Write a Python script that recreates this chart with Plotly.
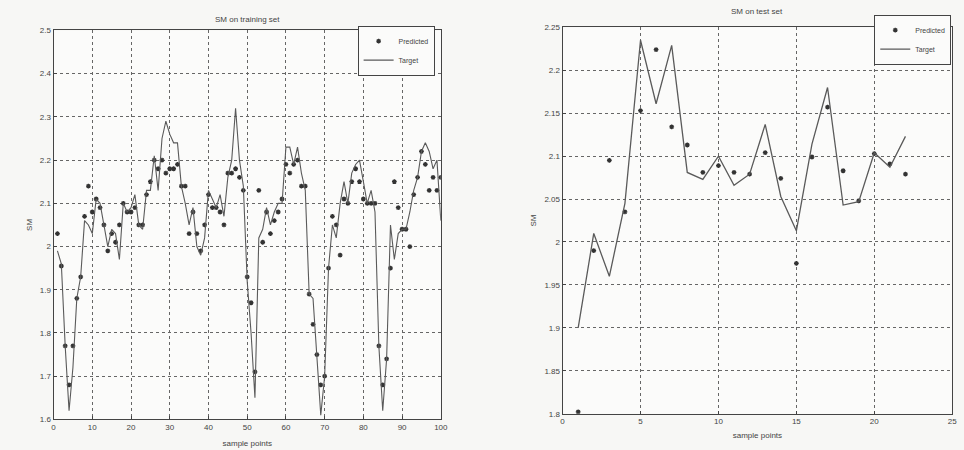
import plotly.graph_objects as go

# ---- Training set (left) ----
train_x = list(range(1, 101))
train_target = [1.99, 1.96, 1.77, 1.62, 1.72, 1.88, 1.93, 2.06, 2.05, 2.03,
                2.11, 2.10, 2.05, 2.00, 2.04, 2.03, 1.97, 2.10, 2.08, 2.09,
                2.12, 2.05, 2.04, 2.13, 2.13, 2.21, 2.13, 2.25, 2.29, 2.26,
                2.24, 2.24, 2.14, 2.10, 2.05, 2.09, 2.00, 1.98, 2.02, 2.13,
                2.11, 2.09, 2.12, 2.07, 2.16, 2.20, 2.32, 2.20, 2.14, 1.92,
                1.80, 1.65, 2.02, 2.04, 2.09, 2.05, 2.08, 2.10, 2.10, 2.23,
                2.23, 2.19, 2.23, 2.17, 2.13, 1.89, 1.88, 1.75, 1.61, 1.70,
                1.95, 2.05, 2.02, 2.10, 2.15, 2.10, 2.17, 2.19, 2.20, 2.15,
                2.10, 2.13, 2.08, 1.77, 1.62, 1.74, 2.05, 1.97, 2.03, 2.04,
                2.04, 2.08, 2.13, 2.16, 2.22, 2.24, 2.22, 2.18, 2.20, 2.06]
train_pred = [2.03, 1.955, 1.77, 1.68, 1.77, 1.88, 1.93, 2.07, 2.14, 2.08,
              2.11, 2.09, 2.05, 1.99, 2.03, 2.01, 2.05, 2.10, 2.08, 2.08,
              2.09, 2.05, 2.05, 2.12, 2.15, 2.20, 2.18, 2.20, 2.17, 2.18,
              2.18, 2.19, 2.14, 2.14, 2.03, 2.08, 2.03, 1.99, 2.05, 2.12,
              2.09, 2.09, 2.08, 2.05, 2.17, 2.17, 2.18, 2.16, 2.13, 1.93,
              1.87, 1.71, 2.13, 2.01, 2.08, 2.03, 2.06, 2.08, 2.11, 2.19,
              2.17, 2.19, 2.20, 2.14, 2.14, 1.89, 1.82, 1.75, 1.68, 1.70,
              1.95, 2.07, 2.05, 1.98, 2.11, 2.10, 2.15, 2.18, 2.15, 2.11,
              2.10, 2.10, 2.10, 1.77, 1.68, 1.74, 1.95, 2.15, 2.09, 2.04,
              2.04, 2.00, 2.12, 2.16, 2.22, 2.19, 2.13, 2.16, 2.13, 2.16]

# ---- Test set (right) ----
test_x = list(range(1, 23))
test_target = [1.90, 2.01, 1.96, 2.045, 2.235, 2.161, 2.229, 2.081, 2.073, 2.100,
               2.066, 2.079, 2.137, 2.053, 2.013, 2.114, 2.180, 2.043, 2.047, 2.104,
               2.087, 2.123]
test_pred = [1.802, 1.99, 2.095, 2.035, 2.153, 2.224, 2.134, 2.113, 2.081, 2.089,
             2.081, 2.079, 2.104, 2.074, 1.975, 2.099, 2.157, 2.083, 2.048, 2.103,
             2.091, 2.079]

train_xticks = [0, 10, 20, 30, 40, 50, 60, 70, 80, 90, 100]
train_yticks = [1.6, 1.7, 1.8, 1.9, 2.0, 2.1, 2.2, 2.3, 2.4, 2.5]
train_ylabels = ["1.6", "1.7", "1.8", "1.9", "2", "2.1", "2.2", "2.3", "2.4", "2.5"]
test_xticks = [0, 5, 10, 15, 20, 25]
test_yticks = [1.8, 1.85, 1.9, 1.95, 2.0, 2.05, 2.1, 2.15, 2.2, 2.25]
test_ylabels = ["1.8", "1.85", "1.9", "1.95", "2", "2.05", "2.1", "2.15", "2.2", "2.25"]

LINE = "#5a5a5a"
MARK = "#333333"
TXT = "#444444"
FONT = "Liberation Sans, Arial"

marker_style = dict(symbol="asterisk-open", size=4, color=MARK,
                    line=dict(width=1.3, color=MARK))

fig = go.Figure()
fig.add_trace(go.Scatter(x=train_x, y=train_pred, mode="markers", name="Predicted",
                         marker=marker_style, xaxis="x", yaxis="y", legend="legend"))
fig.add_trace(go.Scatter(x=train_x, y=train_target, mode="lines", name="Target",
                         line=dict(color=LINE, width=1.1),
                         xaxis="x", yaxis="y", legend="legend"))
fig.add_trace(go.Scatter(x=test_x, y=test_pred, mode="markers", name="Predicted",
                         marker=marker_style, xaxis="x2", yaxis="y2", legend="legend2"))
fig.add_trace(go.Scatter(x=test_x, y=test_target, mode="lines", name="Target",
                         line=dict(color=LINE, width=1.3),
                         xaxis="x2", yaxis="y2", legend="legend2"))

ax_common = dict(showline=True, linecolor="#444444", linewidth=1, mirror=True,
                 showgrid=True, gridcolor="#666666", griddash="dot", gridwidth=1,
                 ticks="inside", ticklen=3, tickcolor="#444444",
                 tickfont=dict(family=FONT, size=8, color=TXT),
                 zeroline=False)
title_font = dict(family=FONT, size=8, color=TXT)
legend_common = dict(xanchor="right", yanchor="top",
                     bgcolor="#fbfbfa", bordercolor="#444444", borderwidth=1,
                     font=dict(family=FONT, size=7, color=TXT),
                     tracegroupgap=0, itemwidth=30)

fig.update_layout(
    width=964, height=450,
    margin=dict(l=0, r=0, t=0, b=0),
    paper_bgcolor="#f7f7f5", plot_bgcolor="#fbfbfa",
    showlegend=True,
    xaxis=dict(domain=[0.054, 0.4595], range=[0, 100], tickvals=train_xticks,
               title=dict(text="sample points", standoff=9, font=title_font),
               anchor="y", **ax_common),
    yaxis=dict(domain=[0.058, 0.94], range=[1.6, 2.5], tickvals=train_yticks,
               ticktext=train_ylabels,
               title=dict(text="SM", standoff=6, font=title_font),
               anchor="x", **ax_common),
    xaxis2=dict(domain=[0.587, 0.995], range=[0, 25], tickvals=test_xticks,
                title=dict(text="sample points", standoff=7, font=title_font),
                anchor="y2", **ax_common),
    yaxis2=dict(domain=[0.071, 0.947], range=[1.8, 2.25], tickvals=test_yticks,
                ticktext=test_ylabels,
                title=dict(text="SM", standoff=6, font=title_font),
                anchor="x2", **ax_common),
    legend=dict(x=0.453, y=0.951, **legend_common),
    legend2=dict(x=0.994, y=0.976, **legend_common),
    annotations=[
        dict(text="SM on training set", x=0.257, y=0.965, xref="paper", yref="paper",
             showarrow=False, xanchor="center", yanchor="middle", font=title_font),
        dict(text="SM on test set", x=0.791, y=0.982, xref="paper", yref="paper",
             showarrow=False, xanchor="center", yanchor="middle", font=title_font),
    ],
)

fig.write_html("out.html")
